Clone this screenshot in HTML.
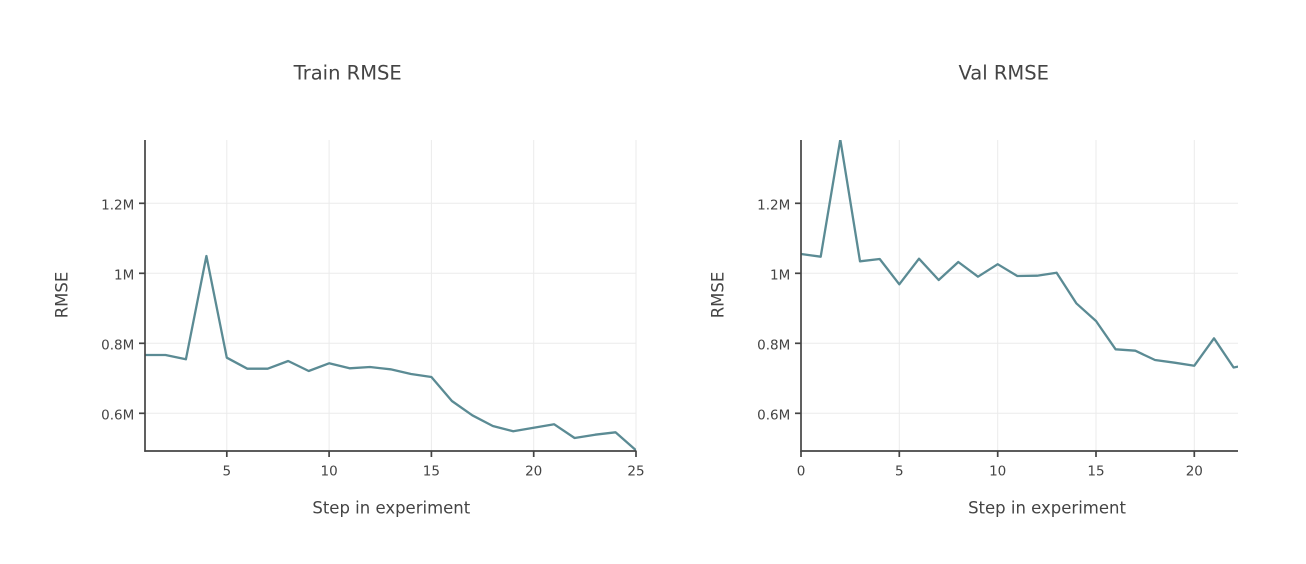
<!DOCTYPE html>
<html>
<head>
<meta charset="utf-8">
<style>
  html, body { margin: 0; padding: 0; background: #ffffff; }
  body { width: 1306px; height: 564px; overflow: hidden; }
  svg { display: block; }
  text { font-family: "DejaVu Sans", "Liberation Sans", sans-serif; fill: #444444; }
  .tick { font-size: 13.5px; }
  .atitle { font-size: 16.5px; }
  .ptitle { font-size: 19.5px; }
</style>
</head>
<body>
<svg width="1306" height="564" viewBox="0 0 1306 564" xmlns="http://www.w3.org/2000/svg">
  <defs>
    <clipPath id="clipL"><rect x="145" y="140" width="491" height="311"/></clipPath>
    <clipPath id="clipR"><rect x="801" y="140" width="437" height="311"/></clipPath>
  </defs>
  <rect width="1306" height="564" fill="#ffffff"/>

  <!-- ===== LEFT: Train RMSE ===== -->
  <g stroke="#ebebeb" stroke-width="1">
    <line x1="145" y1="203.3" x2="636" y2="203.3"/>
    <line x1="145" y1="273.3" x2="636" y2="273.3"/>
    <line x1="145" y1="343.3" x2="636" y2="343.3"/>
    <line x1="145" y1="413.3" x2="636" y2="413.3"/>
    <line x1="226.8" y1="140" x2="226.8" y2="451"/>
    <line x1="329.1" y1="140" x2="329.1" y2="451"/>
    <line x1="431.4" y1="140" x2="431.4" y2="451"/>
    <line x1="533.7" y1="140" x2="533.7" y2="451"/>
    <line x1="636" y1="140" x2="636" y2="451"/>
  </g>
  <g clip-path="url(#clipL)">
    <polyline fill="none" stroke="#5b8b94" stroke-width="2.3" stroke-linejoin="round"
      points="145,355 165.5,355 185.9,359.3 206.4,256 226.8,357.7 247.3,368.7 267.7,368.7 288.2,361 308.7,371 329.1,363.3 349.6,368.3 370,367 390.5,369.3 411,374 431.4,377 451.9,401 472.3,415.3 492.8,426 513.2,431.3 533.7,427.7 554.2,424.3 574.6,438 595.1,434.7 615.5,432.3 636,450.3"/>
  </g>
  <g stroke="#444444" stroke-width="1.7">
    <line x1="145" y1="140" x2="145" y2="451.7"/>
    <line x1="144.3" y1="451" x2="636.5" y2="451"/>
    <line x1="139" y1="203.3" x2="145" y2="203.3"/>
    <line x1="139" y1="273.3" x2="145" y2="273.3"/>
    <line x1="139" y1="343.3" x2="145" y2="343.3"/>
    <line x1="139" y1="413.3" x2="145" y2="413.3"/>
    <line x1="226.8" y1="451" x2="226.8" y2="457"/>
    <line x1="329.1" y1="451" x2="329.1" y2="457"/>
    <line x1="431.4" y1="451" x2="431.4" y2="457"/>
    <line x1="533.7" y1="451" x2="533.7" y2="457"/>
    <line x1="636" y1="451" x2="636" y2="457"/>
  </g>
  <g class="tick" text-anchor="end">
    <text x="134.3" y="209.3">1.2M</text>
    <text x="134.3" y="279.3">1M</text>
    <text x="134.3" y="349.3">0.8M</text>
    <text x="134.3" y="419.3">0.6M</text>
  </g>
  <g class="tick" text-anchor="middle">
    <text x="226.8" y="475.7">5</text>
    <text x="329.1" y="475.7">10</text>
    <text x="431.4" y="475.7">15</text>
    <text x="533.7" y="475.7">20</text>
    <text x="636" y="475.7">25</text>
  </g>
  <text class="atitle" text-anchor="middle" x="391.3" y="513.3">Step in experiment</text>
  <text class="atitle" text-anchor="middle" transform="translate(67.3,295) rotate(-90)">RMSE</text>
  <text class="ptitle" text-anchor="middle" x="347.7" y="79.3">Train RMSE</text>

  <!-- ===== RIGHT: Val RMSE ===== -->
  <g stroke="#ebebeb" stroke-width="1">
    <line x1="801" y1="203.3" x2="1238" y2="203.3"/>
    <line x1="801" y1="273.3" x2="1238" y2="273.3"/>
    <line x1="801" y1="343.3" x2="1238" y2="343.3"/>
    <line x1="801" y1="413.3" x2="1238" y2="413.3"/>
    <line x1="899.3" y1="140" x2="899.3" y2="451"/>
    <line x1="997.7" y1="140" x2="997.7" y2="451"/>
    <line x1="1096" y1="140" x2="1096" y2="451"/>
    <line x1="1194.3" y1="140" x2="1194.3" y2="451"/>
  </g>
  <g clip-path="url(#clipR)">
    <polyline fill="none" stroke="#5b8b94" stroke-width="2.3" stroke-linejoin="round"
      points="801,254 820.7,256.7 840.3,139.5 860,261.3 879.7,259 899.3,284.3 919,258.7 938.7,280 958.3,262 978,276.7 997.7,264.2 1017.3,276 1037,275.7 1056.6,272.7 1076.3,303.3 1096,321 1115.6,349.3 1135.3,350.7 1155,360 1174.6,362.7 1194.3,365.7 1214,338.3 1233.6,367.5 1253.3,363.6"/>
  </g>
  <g stroke="#444444" stroke-width="1.7">
    <line x1="801" y1="140" x2="801" y2="451.7"/>
    <line x1="800.3" y1="451" x2="1238" y2="451"/>
    <line x1="795" y1="203.3" x2="801" y2="203.3"/>
    <line x1="795" y1="273.3" x2="801" y2="273.3"/>
    <line x1="795" y1="343.3" x2="801" y2="343.3"/>
    <line x1="795" y1="413.3" x2="801" y2="413.3"/>
    <line x1="801" y1="451" x2="801" y2="457"/>
    <line x1="899.3" y1="451" x2="899.3" y2="457"/>
    <line x1="997.7" y1="451" x2="997.7" y2="457"/>
    <line x1="1096" y1="451" x2="1096" y2="457"/>
    <line x1="1194.3" y1="451" x2="1194.3" y2="457"/>
  </g>
  <g class="tick" text-anchor="end">
    <text x="790.3" y="209.3">1.2M</text>
    <text x="790.3" y="279.3">1M</text>
    <text x="790.3" y="349.3">0.8M</text>
    <text x="790.3" y="419.3">0.6M</text>
  </g>
  <g class="tick" text-anchor="middle">
    <text x="801" y="475.7">0</text>
    <text x="899.3" y="475.7">5</text>
    <text x="997.7" y="475.7">10</text>
    <text x="1096" y="475.7">15</text>
    <text x="1194.3" y="475.7">20</text>
  </g>
  <text class="atitle" text-anchor="middle" x="1047" y="513.3">Step in experiment</text>
  <text class="atitle" text-anchor="middle" transform="translate(723.3,295) rotate(-90)">RMSE</text>
  <text class="ptitle" text-anchor="middle" x="1003.7" y="79.3">Val RMSE</text>
</svg>
</body>
</html>
